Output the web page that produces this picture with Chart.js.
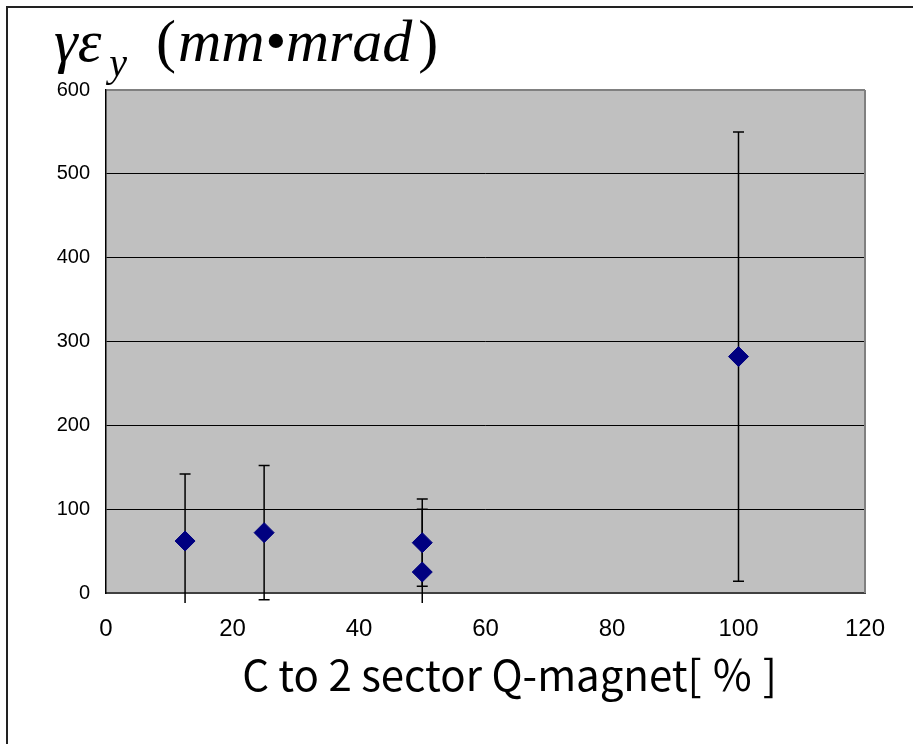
<!DOCTYPE html>
<html>
<head>
<meta charset="utf-8">
<script src="https://cdn.jsdelivr.net/npm/chart.js@4"></script>
<style>
  html, body { margin: 0; padding: 0; background: #fff; }
  #wrap { width: 914px; height: 744px; }
</style>
</head>
<body>
<div id="wrap"><canvas id="emit-chart"></canvas></div>
<script>
// Q-magnet setting [%], vertical emittance and its error
const qMagnet = [12.5, 25, 50, 50, 100];
const emitY = [62, 72, 60, 25, 282];
const emitErr = [80, 80, 52, 75, 268];

const xTicks = [0, 20, 40, 60, 80, 100, 120];
const yTicks = [0, 100, 200, 300, 400, 500, 600];

const xTitle = 'C to 2 sector Q-magnet[ ％ ]';

// white page with a frame on the top and left edges
const pageFrame = {
    id: 'pageFrame',
    beforeDraw(chart) {
        const {ctx, chartArea} = chart;
        ctx.save();
        ctx.fillStyle = '#fff';
        ctx.fillRect(0, 0, chart.width, chart.height);
        ctx.strokeStyle = '#222';
        ctx.lineWidth = 2;
        ctx.beginPath();
        ctx.moveTo(7, chart.height);
        ctx.lineTo(7, 7);
        ctx.lineTo(chart.width - 1, 7);
        ctx.stroke();
        ctx.fillStyle = '#c0c0c0';
        ctx.fillRect(chartArea.left, chartArea.top, chartArea.width, chartArea.height);
        ctx.restore();
    }
};

// error bars drawn behind the markers, cut a little below the axis
const errorBars = {
    id: 'errorBars',
    beforeDatasetsDraw(chart) {
        const {ctx, chartArea, scales: {x, y}} = chart;
        ctx.save();
        ctx.strokeStyle = '#808080';
        ctx.lineWidth = 2;
        ctx.beginPath();
        ctx.moveTo(chartArea.right, chartArea.top);
        ctx.lineTo(chartArea.right, chartArea.bottom);
        ctx.stroke();

        ctx.beginPath();
        ctx.rect(chartArea.left, chartArea.top - 20, chartArea.width,
            y.getPixelForValue(-12) - chartArea.top + 20);
        ctx.clip();
        ctx.strokeStyle = '#000';
        ctx.lineWidth = 1.5;
        qMagnet.forEach((q, i) => {
            const px = x.getPixelForValue(q);
            const top = y.getPixelForValue(emitY[i] + emitErr[i]);
            const bot = y.getPixelForValue(emitY[i] - emitErr[i]);
            ctx.beginPath();
            ctx.moveTo(px, top);
            ctx.lineTo(px, bot);
            ctx.moveTo(px - 5.5, top);
            ctx.lineTo(px + 5.5, top);
            ctx.moveTo(px - 5.5, bot);
            ctx.lineTo(px + 5.5, bot);
            ctx.stroke();
        });
        ctx.restore();
    }
};

// axis titles: gamma-epsilon_y (mm•mrad) above, Q-magnet setting below
const axisTitles = {
    id: 'axisTitles',
    afterDraw(chart) {
        const {ctx, chartArea} = chart;
        ctx.save();
        ctx.fillStyle = '#000';
        ctx.textBaseline = 'alphabetic';
        ctx.textAlign = 'left';

        const serif = '"Liberation Serif", "Times New Roman", serif';
        let cx = 54;
        ctx.font = 'italic 60px ' + serif;
        ctx.fillText('γε', cx, 61);
        cx += ctx.measureText('γε').width + 8;
        ctx.font = 'italic 40px ' + serif;
        ctx.fillText('y', cx, 76);
        cx = 156;
        ctx.font = '60px ' + serif;
        ctx.fillText('(', cx, 61);
        cx += ctx.measureText('(').width + 2;
        ctx.font = 'italic 60px ' + serif;
        ctx.fillText('mm•mrad', cx, 61);
        cx += ctx.measureText('mm•mrad').width + 6;
        ctx.font = '60px ' + serif;
        ctx.fillText(')', cx, 61);

        ctx.font = '42px "Liberation Sans Narrow", "Noto Sans CJK JP", sans-serif';
        ctx.textAlign = 'center';
        ctx.textBaseline = 'middle';
        ctx.fillText(xTitle, (chartArea.left + chartArea.right) / 2 + 24, chartArea.bottom + 82);
        ctx.restore();
    }
};

const ctx1 = document.getElementById('emit-chart');

new Chart(ctx1, {
    type: 'scatter',
    data: {
        datasets: [
            {
                data: qMagnet.map((q, i) => ({x: q, y: emitY[i]})),
                pointStyle: 'rectRot',
                pointRadius: 10,
                pointBackgroundColor: '#000080',
                pointBorderColor: '#000080',
                pointBorderWidth: 1,
            },
        ]
    },
    plugins: [pageFrame, errorBars, axisTitles],
    options: {
        responsive: true,
        maintainAspectRatio: false,
        animation: false,
        layout: {
            padding: {top: 90, right: 49, left: 0, bottom: 0}
        },
        scales: {
            x: {
                type: 'linear',
                min: 0,
                max: 120,
                afterBuildTicks: (scale) => { scale.ticks = xTicks.map(v => ({value: v})); },
                afterFit: (scale) => { scale.height = 151; },
                grid: {
                    display: false,
                    drawTicks: false,
                },
                border: {
                    color: '#404040',
                    width: 2,
                },
                ticks: {
                    padding: 22,
                    color: '#000',
                    font: {family: '"Liberation Sans Narrow", "Liberation Sans", sans-serif', size: 24},
                }
            },
            y: {
                min: 0,
                max: 600,
                afterBuildTicks: (scale) => { scale.ticks = yTicks.map(v => ({value: v})); },
                afterFit: (scale) => { scale.width = 106; },
                grid: {
                    color: (c) => c.tick && c.tick.value === 600 ? '#808080' : '#000',
                    lineWidth: (c) => c.tick && c.tick.value === 600 ? 2 : 1,
                    drawTicks: false,
                },
                border: {
                    color: '#000',
                    width: 1.5,
                },
                ticks: {
                    padding: 16,
                    color: '#000',
                    font: {family: '"Liberation Sans", Arial, sans-serif', size: 20},
                }
            }
        },
        plugins: {
            legend: {
                display: false,
            },
            tooltip: {
                enabled: false,
            }
        }
    }
});
</script>
</body>
</html>
